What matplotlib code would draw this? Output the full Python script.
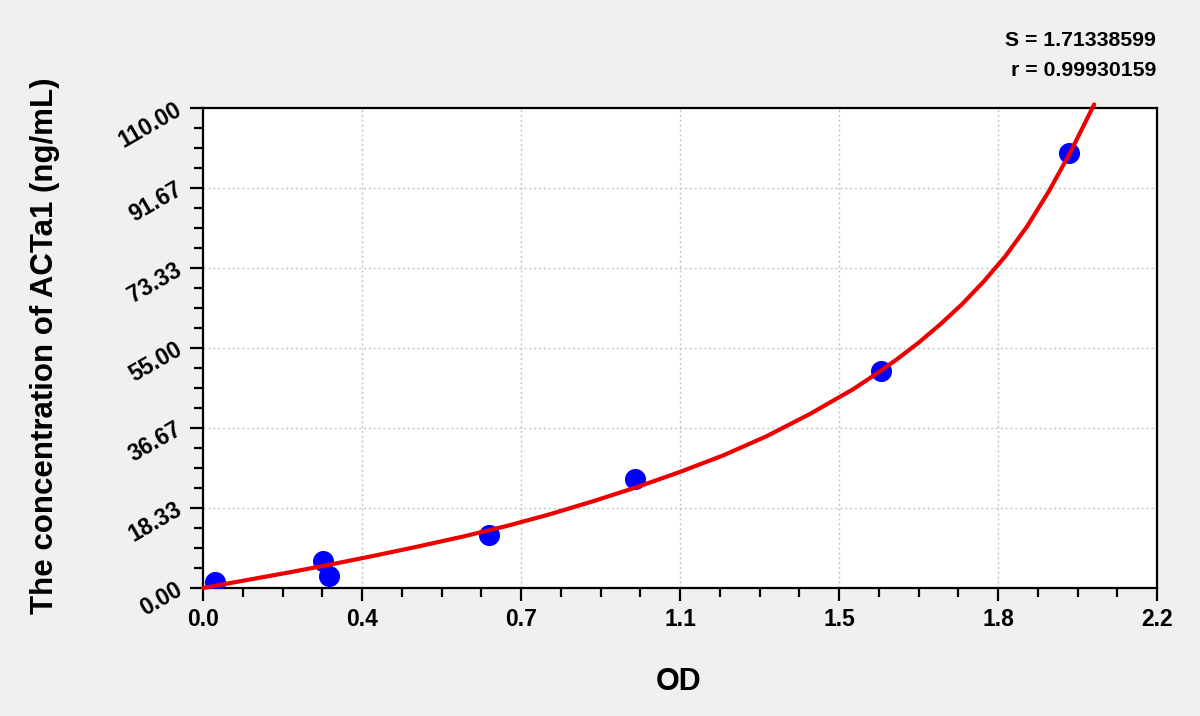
import matplotlib
matplotlib.use("Agg")
import matplotlib.pyplot as plt
from matplotlib.ticker import AutoMinorLocator

# ---- data ----
od_points = [0.028, 0.276, 0.291, 0.660, 0.996, 1.564, 1.997]
conc_points = [1.4, 6.1, 2.7, 12.2, 24.9, 49.7, 99.7]

curve_od = [0.0, 0.1, 0.2, 0.3, 0.4, 0.5, 0.6, 0.7, 0.8, 0.9, 1.0, 1.1, 1.2,
            1.3, 1.4, 1.5, 1.55, 1.6, 1.65, 1.7, 1.75, 1.8, 1.85, 1.9, 1.95,
            2.0, 2.055]
curve_conc = [0.0, 1.8, 3.6, 5.5, 7.5, 9.6, 11.8, 14.2, 16.9, 19.9, 23.1, 26.6,
              30.4, 34.8, 39.9, 45.6, 48.9, 52.4, 56.2, 60.4, 65.0, 70.2, 76.0,
              82.8, 90.8, 99.8, 110.8]

x_ticks = [0.0, 2.2 / 6, 2 * 2.2 / 6, 3 * 2.2 / 6, 4 * 2.2 / 6, 5 * 2.2 / 6, 2.2]
x_tick_labels = ["0.0", "0.4", "0.7", "1.1", "1.5", "1.8", "2.2"]
y_ticks = [0.0, 110 / 6, 2 * 110 / 6, 3 * 110 / 6, 4 * 110 / 6, 5 * 110 / 6, 110.0]
y_tick_labels = ["0.00", "18.33", "36.67", "55.00", "73.33", "91.67", "110.00"]

s_text = "S = 1.71338599"
r_text = "r = 0.99930159"
x_label = "OD"
y_label = "The concentration of ACTa1 (ng/mL)"

# ---- figure ----
plt.rcParams['font.family'] = ['Liberation Sans', 'DejaVu Sans']
plt.rcParams['font.weight'] = 'bold'

bg = '#f0f0f0'
fig = plt.figure(figsize=(12, 7.16), dpi=100, facecolor=bg)
ax = fig.add_axes([203 / 1200, 1 - 588 / 716, (1157 - 203) / 1200, (588 - 108) / 716])
ax.set_facecolor('white')

ax.set_xlim(0, 2.2)
ax.set_ylim(0, 110)

ax.grid(True, which='major', color='#c4c4c4', linestyle=(0, (1.5, 2)), linewidth=1.0)
ax.set_axisbelow(True)

ax.scatter(od_points, conc_points, s=230, color='#0000ff', zorder=3, linewidths=0)
ax.plot(curve_od, curve_conc, color='#ee0000', linewidth=3.0, zorder=4,
        clip_on=False, solid_capstyle='round', solid_joinstyle='round')

ax.set_xticks(x_ticks)
ax.set_xticklabels(x_tick_labels, fontsize=16.5, fontweight='bold')
ax.set_yticks(y_ticks)
ax.set_yticklabels(y_tick_labels, fontsize=16.5, fontweight='bold',
                   rotation=30, ha='right', va='center', rotation_mode='anchor')

ax.xaxis.set_minor_locator(AutoMinorLocator(4))
ax.yaxis.set_minor_locator(AutoMinorLocator(4))
ax.tick_params(axis='both', which='major', direction='out', length=9.5, width=1.6,
               color='black')
ax.tick_params(axis='both', which='minor', direction='out', length=6.2, width=1.6,
               color='black')
ax.tick_params(axis='x', which='major', pad=5)
ax.tick_params(axis='y', which='major', pad=7)

for sp in ax.spines.values():
    sp.set_linewidth(1.6)
    sp.set_color('black')

fig.text(679 / 1200, 1 - 682 / 716, x_label, fontsize=22, fontweight='bold',
         ha='center', va='center')
fig.text(45 / 1200, 1 - 346 / 716, y_label, fontsize=22.5, fontweight='bold',
         ha='center', va='center', rotation=90)

fig.text(1156 / 1200, 1 - 41 / 716, s_text, fontsize=15.3, fontweight='bold',
         ha='right', va='center')
fig.text(1156 / 1200, 1 - 70 / 716, r_text, fontsize=15.3, fontweight='bold',
         ha='right', va='center')

fig.savefig('out.png', dpi=100, facecolor=bg)
